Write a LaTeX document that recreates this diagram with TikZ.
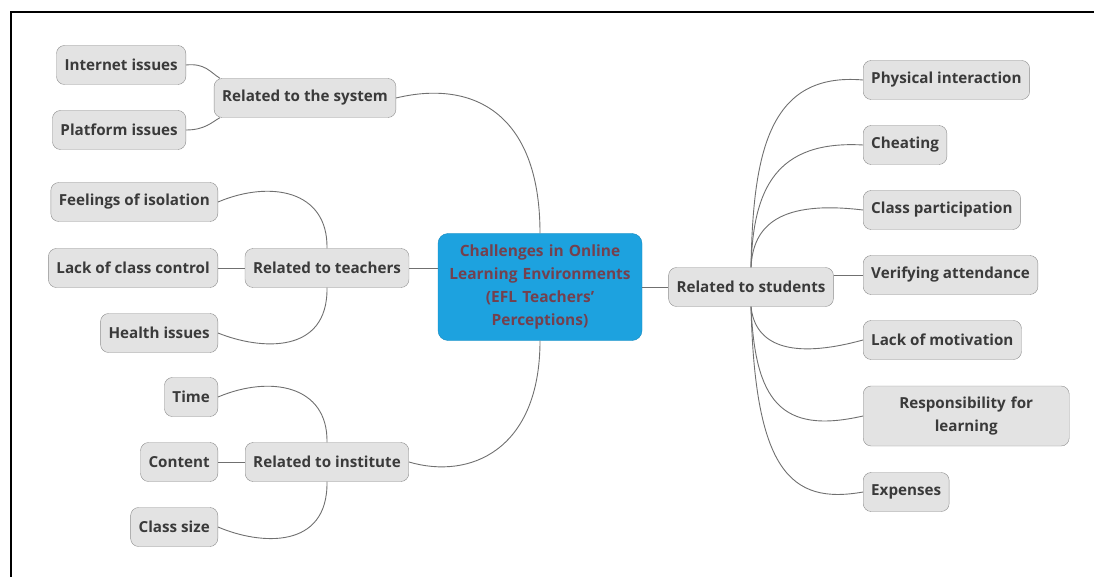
\documentclass[tikz,border=0pt]{standalone}
\usepackage{fontspec}
\setmainfont{Open Sans}
\definecolor{boxgray}{HTML}{E3E3E3}
\definecolor{framegray}{HTML}{8C8C8C}
\definecolor{linkgray}{HTML}{707070}
\definecolor{textgray}{HTML}{3A3A3A}
\definecolor{hubblue}{HTML}{1DA2DF}
\definecolor{hubtext}{HTML}{74404E}
\begin{document}
\begin{tikzpicture}[x=1pt,y=-1pt,
    topic/.style={draw=framegray,fill=boxgray,rounded corners=8pt,minimum height=39pt,
      inner xsep=8pt,font=\bfseries\fontsize{15.2}{19}\selectfont,text=textgray},
    link/.style={draw=linkgray,line width=0.9pt}]

      \useasboundingbox (0,0) rectangle (1094,577);
      \draw[line width=2.5pt] (10,12) -- (1094,12); % top frame
      \draw[line width=2.5pt] (11,12) -- (11,577); % left frame

      % hub
      \node[draw=hubblue!85!black,fill=hubblue,rounded corners=10pt,minimum width=204pt,minimum height=107pt,
        text width=196pt,align=center,text=hubtext,font=\bfseries\fontsize{15.5}{23}\selectfont] (cen) at (540,287)
        {Challenges in Online\\ Learning Environments\\ (EFL Teachers'\\ Perceptions)};

      % first level
      \node[topic] (sys) at (305,98) {Related to the system};
      \node[topic] (tea) at (327,268) {Related to teachers};
      \node[topic] (inst) at (327,462) {Related to institute};
      \node[topic] (stu) at (751,287) {Related to students};

      % left leaves
      \node[topic,anchor=east] (inet) at (186,65) {Internet issues};
      \node[topic,anchor=east] (plat) at (186,130) {Platform issues};
      \node[topic,anchor=east] (iso) at (218,202) {Feelings of isolation};
      \node[topic,anchor=east] (ctrl) at (218,268) {Lack of class control};
      \node[topic,anchor=east] (health) at (218,333) {Health issues};
      \node[topic,anchor=east] (time) at (218,397) {Time};
      \node[topic,anchor=east] (cont) at (218,462) {Content};
      \node[topic,anchor=east] (size) at (218,527) {Class size};

      % right leaves
      \node[topic,anchor=west] (phys) at (863,80) {Physical interaction};
      \node[topic,anchor=west] (cheat) at (863,145) {Cheating};
      \node[topic,anchor=west] (part) at (863,210) {Class participation};
      \node[topic,anchor=west] (attend) at (863,275) {Verifying attendance};
      \node[topic,anchor=west] (motiv) at (863,340) {Lack of motivation};
      \node[topic,anchor=west,minimum height=60pt,text width=190pt,align=center,
        font=\bfseries\fontsize{15.2}{23}\selectfont] (resp) at (863,416)
        {Responsibility for\\ learning};
      \node[topic,anchor=west] (exp) at (863,492) {Expenses};

      % hub links
      \draw[link] (cen.north) .. controls (540,110) and (470,80) .. (sys.east);
      \draw[link] (cen.west |- tea.east) -- (tea.east);
      \draw[link] (cen.south) .. controls (540,450) and (470,480) .. (inst.east);
      \draw[link] (cen.east |- stu.west) -- (stu.west);

      % system
      \draw[link] (inet.east) .. controls (205,63) and (210,72) .. ([xshift=6pt]sys.north west);
      \draw[link] (plat.east) .. controls (205,130) and (212,122) .. ([xshift=6pt]sys.south west);

      % teachers
      \draw[link] (tea.north) .. controls (328,190) and (270,180) .. (iso.east);
      \draw[link] (ctrl.east) -- (tea.west);
      \draw[link] (tea.south) .. controls (328,355) and (260,350) .. (health.east);

      % institute
      \draw[link] (inst.north) .. controls (328,385) and (270,375) .. (time.east);
      \draw[link] (cont.east) -- (inst.west);
      \draw[link] (inst.south) .. controls (328,550) and (260,545) .. (size.east);

      % students
      \draw[link] (stu.north) .. controls (753,150) and (770,72) .. (phys.west);
      \draw[link] (stu.north) .. controls (753,190) and (775,140) .. (cheat.west);
      \draw[link] (stu.north) .. controls (753,225) and (780,200) .. (part.west);
      \draw[link] (stu.east |- attend.west) -- (attend.west);
      \draw[link] (stu.south) .. controls (755,345) and (790,360) .. (motiv.west);
      \draw[link] (stu.south) .. controls (755,400) and (780,435) .. (resp.west);
      \draw[link] (stu.south) .. controls (755,470) and (790,505) .. (exp.west);

\end{tikzpicture}
\end{document}
